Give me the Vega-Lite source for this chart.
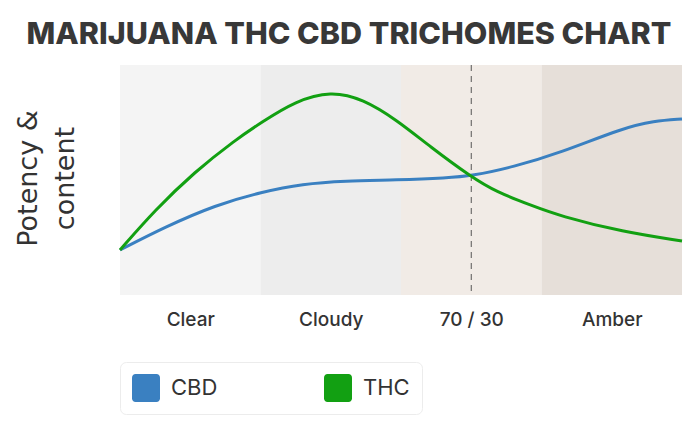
{
  "$schema": "https://vega.github.io/schema/vega-lite/v6.json",
  "width": 562,
  "height": 230,
  "autosize": {"type": "none"},
  "padding": {"left": 120, "top": 65, "right": 16, "bottom": 130},
  "background": "#ffffff",
  "title": {
    "text": "MARIJUANA THC CBD TRICHOMES CHART",
    "anchor": "middle",
    "frame": "group",
    "dx": -52,
    "offset": 14,
    "font": "Inter",
    "fontSize": 30.5,
    "fontWeight": 800,
    "color": "#383838"
  },
  "datasets": {
    "bands": [
      {"stage": "Clear", "start": 0, "end": 1},
      {"stage": "Cloudy", "start": 1, "end": 2},
      {"stage": "70/30", "start": 2, "end": 3},
      {"stage": "Amber", "start": 3, "end": 4}
    ],
    "curves": [
      {"series": "CBD", "x": 0, "y": 45},
      {"series": "CBD", "x": 0.32, "y": 68},
      {"series": "CBD", "x": 0.68, "y": 90},
      {"series": "CBD", "x": 1.01, "y": 103},
      {"series": "CBD", "x": 1.3, "y": 111},
      {"series": "CBD", "x": 1.6, "y": 114},
      {"series": "CBD", "x": 1.97, "y": 115},
      {"series": "CBD", "x": 2.33, "y": 117},
      {"series": "CBD", "x": 2.5, "y": 119},
      {"series": "CBD", "x": 2.8, "y": 128},
      {"series": "CBD", "x": 3.13, "y": 142},
      {"series": "CBD", "x": 3.58, "y": 167},
      {"series": "CBD", "x": 3.8, "y": 174},
      {"series": "CBD", "x": 4.0, "y": 176},
      {"series": "THC", "x": 0, "y": 45},
      {"series": "THC", "x": 0.25, "y": 85},
      {"series": "THC", "x": 0.53, "y": 123},
      {"series": "THC", "x": 0.82, "y": 155},
      {"series": "THC", "x": 1.01, "y": 173},
      {"series": "THC", "x": 1.25, "y": 194},
      {"series": "THC", "x": 1.5, "y": 204},
      {"series": "THC", "x": 1.73, "y": 196},
      {"series": "THC", "x": 1.97, "y": 175},
      {"series": "THC", "x": 2.21, "y": 148},
      {"series": "THC", "x": 2.5, "y": 118},
      {"series": "THC", "x": 2.68, "y": 103},
      {"series": "THC", "x": 2.92, "y": 90},
      {"series": "THC", "x": 3.13, "y": 79},
      {"series": "THC", "x": 3.58, "y": 63},
      {"series": "THC", "x": 4.0, "y": 54}
    ],
    "marker": [{"x": 2.5}]
  },
  "layer": [
    {
      "data": {"name": "bands"},
      "mark": {"type": "rect"},
      "encoding": {
        "x": {
          "field": "start",
          "type": "quantitative",
          "scale": {"domain": [0, 4], "nice": false, "zero": false},
          "axis": {
            "values": [0.5, 1.5, 2.5, 3.5],
            "labelExpr": "datum.value < 1 ? 'Clear' : datum.value < 2 ? 'Cloudy' : datum.value < 3 ? '70 / 30' : 'Amber'",
            "title": null,
            "domain": false,
            "ticks": false,
            "grid": false,
            "labelFont": "Inter",
            "labelFontSize": 19,
            "labelFontWeight": 500,
            "labelColor": "#333333",
            "labelPadding": 15
          }
        },
        "x2": {"field": "end"},
        "fill": {
          "field": "stage",
          "type": "nominal",
          "scale": {
            "domain": ["Clear", "Cloudy", "70/30", "Amber"],
            "range": ["#f4f4f4", "#ededed", "#f1ebe6", "#e6dfd9"]
          },
          "legend": null
        }
      }
    },
    {
      "data": {"name": "marker"},
      "mark": {"type": "rule", "color": "#555555", "strokeWidth": 1, "strokeDash": [6, 5]},
      "encoding": {"x": {"field": "x", "type": "quantitative"}}
    },
    {
      "data": {"name": "curves"},
      "mark": {"type": "line", "interpolate": "basis", "strokeWidth": 3},
      "encoding": {
        "x": {"field": "x", "type": "quantitative"},
        "y": {
          "field": "y",
          "type": "quantitative",
          "scale": {"domain": [0, 230], "nice": false},
          "axis": {
            "title": ["Potency &", "content"],
            "labels": false,
            "ticks": false,
            "domain": false,
            "grid": false,
            "titleFont": "DejaVu Sans",
            "titleFontSize": 27,
            "titleFontWeight": 500,
            "titleColor": "#333333",
            "titleLineHeight": 37,
            "titleAngle": 270,
            "titleBaseline": "top",
            "titleX": -105,
            "titleY": 113,
            "titleAlign": "center"
          }
        },
        "color": {
          "field": "series",
          "type": "nominal",
          "scale": {"domain": ["CBD", "THC"], "range": ["#3a80c1", "#12a012"]},
          "legend": {
            "orient": "none",
            "legendX": 0,
            "legendY": 297,
            "direction": "horizontal",
            "title": null,
            "padding": 12,
            "fillColor": "#ffffff",
            "strokeColor": "#ececec",
            "cornerRadius": 6,
            "symbolType": "M-0.75,-1H0.75A0.25,0.25,0,0,1,1,-0.75V0.75A0.25,0.25,0,0,1,0.75,1H-0.75A0.25,0.25,0,0,1,-1,0.75V-0.75A0.25,0.25,0,0,1,-0.75,-1Z",
            "symbolSize": 784,
            "symbolStrokeWidth": 0,
            "labelFont": "Inter",
            "labelFontSize": 22,
            "labelColor": "#333333",
            "labelOffset": 11,
            "columnPadding": 106,
            "encode": {
              "symbols": {
                "update": {
                  "fill": {"scale": "color", "field": "value"}
                }
              }
            }
          }
        }
      }
    }
  ],
  "config": {"view": {"stroke": null}}
}
